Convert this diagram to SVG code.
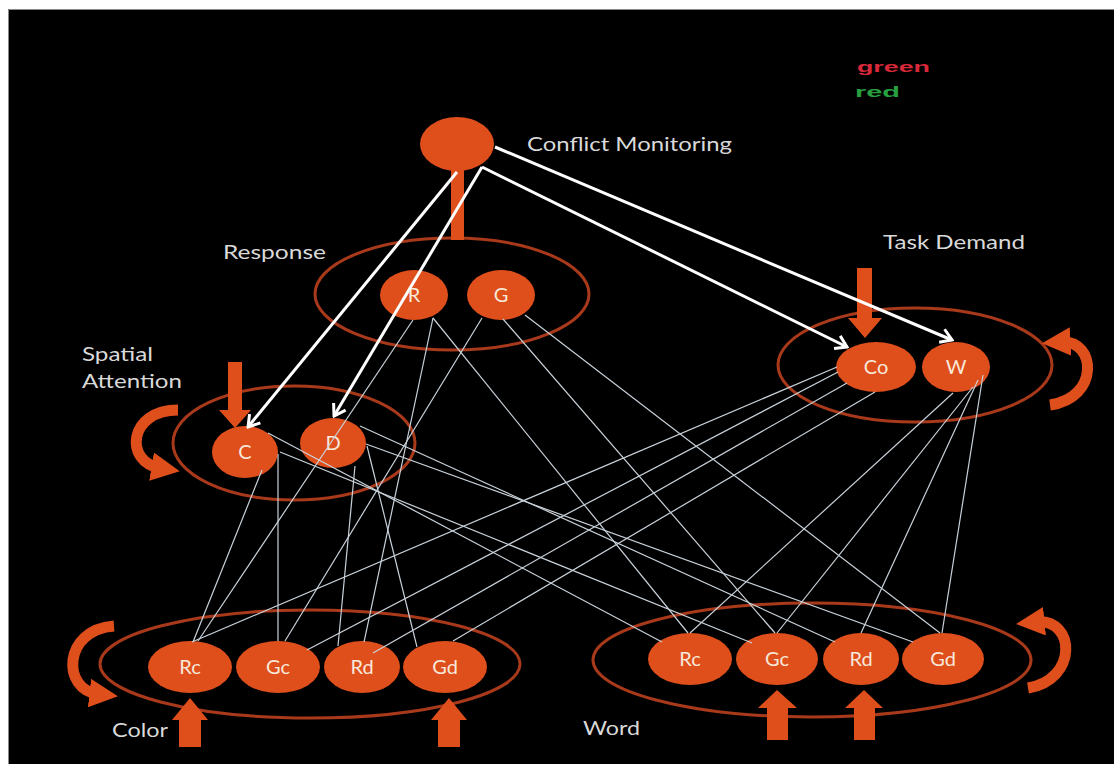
<svg xmlns="http://www.w3.org/2000/svg" width="1114" height="764" viewBox="0 0 1114 764">
<defs>
<style>
.lbl{font-family:Lato,"Open Sans","Liberation Sans",sans-serif;font-size:20px;fill:#d9d9d9}
.nt{font-family:Lato,"Open Sans","Liberation Sans",sans-serif;font-size:20px;fill:#f7e8da;text-anchor:middle}
.node{fill:#df4f1c}
.grp{fill:none;stroke:#a8391a;stroke-width:3}
.thin{stroke:#c9d2da;stroke-width:1.2;fill:none}
.white{stroke:#ffffff;stroke-width:3;fill:none;marker-end:url(#wh)}
.curl{fill:none;stroke:#df4f1c;stroke-width:11;marker-end:url(#oh)}
.oarr{fill:#df4f1c}
</style>
<marker id="wh" viewBox="-13 -9 15 18" refX="0" refY="0" markerWidth="15" markerHeight="18" markerUnits="userSpaceOnUse" orient="auto">
<path d="M-11,-7 L0,0 L-11,7" fill="none" stroke="#fff" stroke-width="3"/>
</marker>
<marker id="oh" viewBox="0 0 10 10" refX="3" refY="5" markerWidth="2.6" markerHeight="2.6" orient="auto">
<path d="M0,0 L10,5 L0,10 z" fill="#df4f1c"/>
</marker>
</defs>
<rect x="0" y="0" width="1114" height="764" fill="#ffffff"/>
<rect x="8" y="9" width="1106" height="755" fill="#000000"/>
<path d="M8.5,764 V9.5 H1114" fill="none" stroke="#8a8a8a" stroke-width="1"/>

<g id="legend">
<text x="857" y="72" style="font-family:'Liberation Sans',Arial,sans-serif;font-weight:bold;font-size:15px" fill="#d8283a" textLength="73" lengthAdjust="spacingAndGlyphs">green</text>
<text x="855" y="97" style="font-family:'Liberation Sans',Arial,sans-serif;font-weight:bold;font-size:15px" fill="#28a040" textLength="45" lengthAdjust="spacingAndGlyphs">red</text>
</g>

<g id="group-outlines">
<ellipse class="grp" cx="452" cy="294" rx="137" ry="56"/>
<ellipse class="grp" cx="915" cy="365" rx="137" ry="57"/>
<ellipse class="grp" cx="294" cy="443" rx="121" ry="57"/>
<ellipse class="grp" cx="310" cy="664" rx="210" ry="54"/>
<ellipse class="grp" cx="812" cy="660" rx="219" ry="57"/>
</g>

<g id="orange-arrows">
<rect class="oarr" x="451" y="168" width="13" height="72"/>
<polygon class="oarr" points="857,268 872,268 872,318 882,318 865,338 848,318 857,318"/>
<polygon class="oarr" points="228,362 242,362 242,410 251,410 235,428 219,410 228,410"/>
<polygon class="oarr" points="179,747 201,747 201,720 208,720 190,698 172,720 179,720"/>
<polygon class="oarr" points="438,747 460,747 460,720 467,720 449,698 431,720 438,720"/>
<polygon class="oarr" points="767,740 788,740 788,708 797,708 777,690 758,708 767,708"/>
<polygon class="oarr" points="854,740 875,740 875,708 883,708 864,690 845,708 854,708"/>
<path class="curl" d="M178,410 C128,410 124,462 160,468"/>
<path class="curl" d="M114,626 C62,630 62,690 98,694"/>
<path class="curl" d="M1050,405 C1100,398 1096,340 1062,342"/>
<path class="curl" d="M1028,688 C1078,680 1076,618 1036,622"/>
</g>

<g id="n-conflict"><ellipse class="node" cx="457" cy="144" rx="37" ry="27"/></g>
<g id="n-R"><ellipse class="node" cx="414" cy="295" rx="34" ry="25"/><text class="nt" x="414" y="302">R</text></g>
<g id="n-G"><ellipse class="node" cx="501" cy="295" rx="34" ry="25"/><text class="nt" x="501" y="302">G</text></g>
<g id="n-Co"><ellipse class="node" cx="876" cy="367" rx="40" ry="25"/><text class="nt" x="876" y="374">Co</text></g>
<g id="n-W"><ellipse class="node" cx="956" cy="367" rx="34" ry="25"/><text class="nt" x="956" y="374">W</text></g>
<g id="n-C"><ellipse class="node" cx="245" cy="452" rx="33" ry="26"/><text class="nt" x="245" y="459">C</text></g>
<g id="n-D"><ellipse class="node" cx="333" cy="443" rx="33" ry="25"/><text class="nt" x="333" y="450">D</text></g>
<g id="n-cRc"><ellipse class="node" cx="190" cy="667" rx="42" ry="26"/><text class="nt" x="190" y="674">Rc</text></g>
<g id="n-cGc"><ellipse class="node" cx="278" cy="667" rx="42" ry="26"/><text class="nt" x="278" y="674">Gc</text></g>
<g id="n-cRd"><ellipse class="node" cx="362" cy="667" rx="38" ry="26"/><text class="nt" x="362" y="674">Rd</text></g>
<g id="n-cGd"><ellipse class="node" cx="445" cy="667" rx="42" ry="26"/><text class="nt" x="445" y="674">Gd</text></g>
<g id="n-wRc"><ellipse class="node" cx="690" cy="659" rx="42" ry="26"/><text class="nt" x="690" y="666">Rc</text></g>
<g id="n-wGc"><ellipse class="node" cx="777" cy="659" rx="41" ry="26"/><text class="nt" x="777" y="666">Gc</text></g>
<g id="n-wRd"><ellipse class="node" cx="861" cy="659" rx="38" ry="26"/><text class="nt" x="861" y="666">Rd</text></g>
<g id="n-wGd"><ellipse class="node" cx="943" cy="659" rx="41" ry="26"/><text class="nt" x="943" y="666">Gd</text></g>

<g id="connectors">
<line class="thin" x1="837" y1="367" x2="192" y2="642"/>
<line class="thin" x1="838" y1="372" x2="307" y2="650"/>
<line class="thin" x1="847" y1="383" x2="373" y2="653"/>
<line class="thin" x1="875" y1="392" x2="453" y2="641"/>
<line class="thin" x1="953" y1="393" x2="690" y2="633"/>
<line class="thin" x1="973" y1="387" x2="777" y2="633"/>
<line class="thin" x1="978" y1="380" x2="861" y2="633"/>
<line class="thin" x1="983" y1="375" x2="942" y2="633"/>
<line class="thin" x1="262" y1="470" x2="193" y2="642"/>
<line class="thin" x1="278" y1="454" x2="278" y2="641"/>
<line class="thin" x1="268" y1="433" x2="662" y2="642"/>
<line class="thin" x1="280" y1="452" x2="752" y2="643"/>
<line class="thin" x1="355" y1="466" x2="338" y2="646"/>
<line class="thin" x1="367" y1="446" x2="417" y2="647"/>
<line class="thin" x1="360" y1="426" x2="835" y2="642"/>
<line class="thin" x1="366" y1="444" x2="913" y2="642"/>
<line class="thin" x1="413" y1="320" x2="198" y2="641"/>
<line class="thin" x1="433" y1="318" x2="364" y2="642"/>
<line class="thin" x1="433" y1="318" x2="688" y2="633"/>
<line class="thin" x1="482" y1="318" x2="285" y2="641"/>
<line class="thin" x1="503" y1="319" x2="775" y2="633"/>
<line class="thin" x1="525" y1="315" x2="940" y2="633"/>
<line class="white" x1="457" y1="172" x2="248" y2="427"/>
<line class="white" x1="482" y1="167" x2="334" y2="416"/>
<line class="white" x1="482" y1="167" x2="847" y2="347"/>
<line class="white" x1="495" y1="147" x2="952" y2="340"/>
</g>

<g id="labels">
<text class="lbl" x="527" y="151" textLength="205" lengthAdjust="spacingAndGlyphs">Conflict Monitoring</text>
<text class="lbl" x="223" y="259" textLength="103" lengthAdjust="spacingAndGlyphs">Response</text>
<text class="lbl" x="883" y="249" textLength="142" lengthAdjust="spacingAndGlyphs">Task Demand</text>
<text class="lbl" x="82" y="361" textLength="71" lengthAdjust="spacingAndGlyphs">Spatial</text>
<text class="lbl" x="82" y="388" textLength="100" lengthAdjust="spacingAndGlyphs">Attention</text>
<text class="lbl" x="112" y="737" textLength="56" lengthAdjust="spacingAndGlyphs">Color</text>
<text class="lbl" x="583" y="735" textLength="57" lengthAdjust="spacingAndGlyphs">Word</text>
</g>
</svg>
